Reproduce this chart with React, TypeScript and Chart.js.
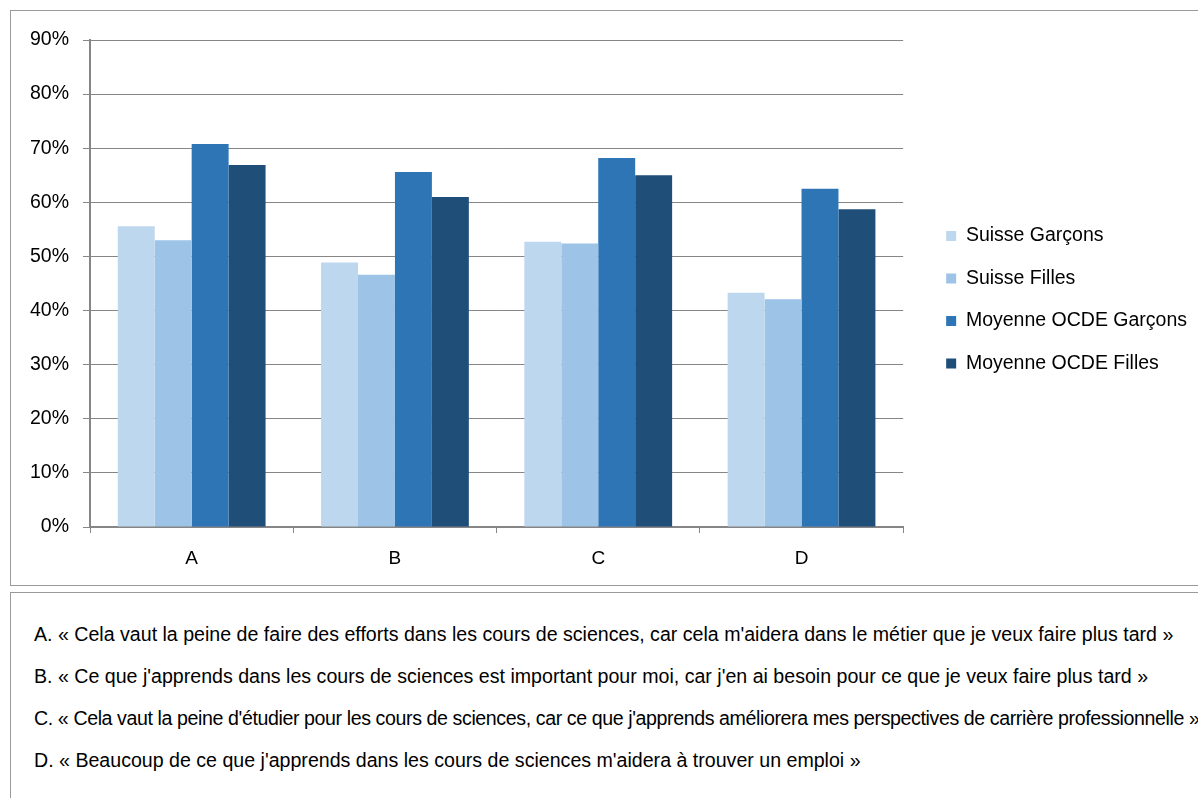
import React, { useEffect, useRef } from "react";
import { Chart, registerables } from "chart.js";

Chart.register(...registerables);

const categories = ["A", "B", "C", "D"];
const seriesNames = ["Suisse Garçons", "Suisse Filles", "Moyenne OCDE Garçons", "Moyenne OCDE Filles"];
const suisseGarcons = [55.6, 48.9, 52.7, 43.3];
const suisseFilles = [53.0, 46.6, 52.4, 42.1];
const ocdeGarcons = [70.8, 65.6, 68.2, 62.5];
const ocdeFilles = [66.9, 61.0, 65.0, 58.7];
const seriesColors = ["#BDD7EE", "#9DC3E6", "#2E75B6", "#1F4E79"];
const yTicks = [0, 10, 20, 30, 40, 50, 60, 70, 80, 90];
const notes = [
  "A. « Cela vaut la peine de faire des efforts dans les cours de sciences, car cela m'aidera dans le métier que je veux faire plus tard »",
  "B. « Ce que j'apprends dans les cours de sciences est important pour moi, car j'en ai besoin pour ce que je veux faire plus tard »",
  "C. « Cela vaut la peine d'étudier pour les cours de sciences, car ce que j'apprends améliorera mes perspectives de carrière professionnelle »",
  "D. « Beaucoup de ce que j'apprends dans les cours de sciences m'aidera à trouver un emploi »",
];
const noteSpacing = [0, 0, -0.4, 0];

const FONT = '"Liberation Sans", Arial, sans-serif';

export default function App() {
  const ref = useRef<HTMLCanvasElement | null>(null);

  useEffect(() => {
    if (!ref.current) return;
    const values = [suisseGarcons, suisseFilles, ocdeGarcons, ocdeFilles];
    const chart = new Chart(ref.current, {
      type: "bar",
      data: {
        labels: categories,
        datasets: seriesNames.map((name, i) => ({
          label: name,
          data: values[i],
          backgroundColor: seriesColors[i],
          borderWidth: 0,
          categoryPercentage: 0.727,
          barPercentage: 1,
        })),
      },
      options: {
        responsive: false,
        animation: false,
        layout: { padding: { left: 5, top: 29, bottom: 13, right: 0 } },
        plugins: {
          tooltip: { enabled: false },
          legend: {
            position: "right",
            fullSize: false,
            maxWidth: 400,
            title: { display: true, text: " ", font: { family: FONT, size: 19, lineHeight: 1.7 } },
            labels: {
              boxWidth: 10,
              boxHeight: 10,
              padding: 23,
              color: "#000",
              font: { family: FONT, size: 19.5 },
            },
          },
        },
        scales: {
          x: {
            grid: { display: true, drawOnChartArea: false, color: "#868686", tickLength: 6, offset: true },
            border: { display: true, color: "#868686", width: 2 },
            ticks: { color: "#000", font: { family: FONT, size: 19 }, padding: 14 },
            afterFit: (s: any) => {
              s.height = 45;
            },
          },
          y: {
            min: 0,
            max: 90,
            afterBuildTicks: (s: any) => {
              s.ticks = yTicks.map((v) => ({ value: v }));
            },
            grid: { color: "#868686", lineWidth: 1, tickLength: 7 },
            border: { display: true, color: "#868686", width: 2 },
            ticks: {
              color: "#000",
              font: { family: FONT, size: 19.5 },
              padding: 14,
              callback: (v: any) => v + "%",
            },
          },
          y2: {
            position: "right",
            display: true,
            grid: { display: false, drawTicks: false },
            border: { display: false },
            ticks: { display: false },
            afterFit: (s: any) => {
              s.width = 20;
            },
          },
        },
      },
    });
    return () => chart.destroy();
  }, []);

  return (
    <div
      style={{
        position: "fixed",
        left: 0,
        top: 0,
        width: 1198,
        height: 798,
        overflow: "hidden",
        background: "#fff",
        fontFamily: FONT,
      }}
    >
      <div
        style={{
          position: "absolute",
          left: 10,
          top: 10,
          width: 1191,
          height: 576,
          border: "1px solid #9a9a9a",
          boxSizing: "border-box",
        }}
      >
        <canvas ref={ref} width={1186} height={574} style={{ display: "block" }} />
      </div>
      <div
        style={{
          position: "absolute",
          left: 10,
          top: 592,
          width: 1250,
          height: 260,
          border: "1px solid #9a9a9a",
          boxSizing: "border-box",
          paddingTop: 20,
          paddingLeft: 23,
          whiteSpace: "nowrap",
          fontSize: 19.6,
          color: "#000",
        }}
      >
        {notes.map((n, i) => (
          <div key={i} style={{ lineHeight: "42px", height: 42, letterSpacing: noteSpacing[i] }}>
            {n}
          </div>
        ))}
      </div>
    </div>
  );
}
